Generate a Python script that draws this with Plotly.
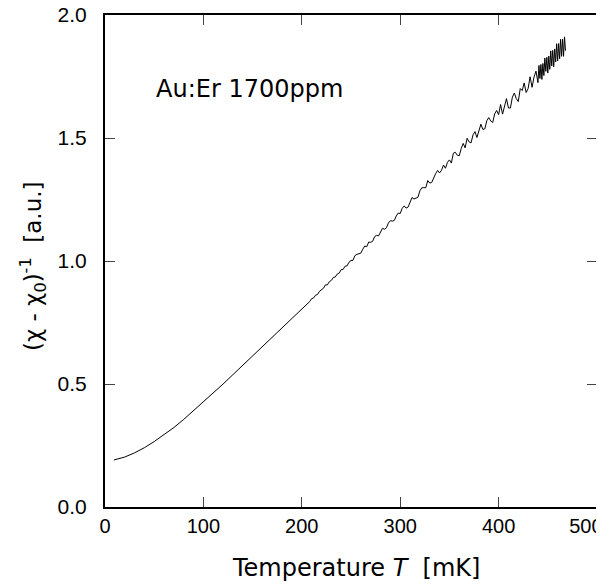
import plotly.graph_objects as go

# Smooth low-temperature part (mK, a.u.)
T_low = [9, 20, 30, 40, 50, 60, 70, 80, 90, 100, 110, 120, 130, 140, 150, 160, 170, 180, 190]
Y_low = [0.191, 0.203, 0.220, 0.241, 0.266, 0.293, 0.323, 0.356, 0.391, 0.427,
         0.463, 0.500, 0.538, 0.576, 0.614, 0.652, 0.690, 0.728, 0.766]

# Noisy part
T_mid = list(range(200, 440, 2))
Y_mid = [0.805, 0.815, 0.819, 0.829, 0.835, 0.847, 0.850, 0.861, 0.864, 0.877,
         0.883, 0.889, 0.903, 0.903, 0.916, 0.921, 0.933, 0.935, 0.947, 0.951,
         0.965, 0.966, 0.979, 0.980, 0.995,
         1.002, 1.003, 1.022, 1.027, 1.028, 1.032, 1.048, 1.061, 1.058, 1.077,
         1.076, 1.080, 1.099, 1.104, 1.102, 1.118, 1.133, 1.129, 1.135, 1.154,
         1.164, 1.162, 1.165, 1.183, 1.195,
         1.193, 1.214, 1.224, 1.215, 1.219, 1.240, 1.258, 1.252, 1.254, 1.259,
         1.285, 1.298, 1.298, 1.298, 1.327, 1.317, 1.319, 1.341, 1.355, 1.368,
         1.358, 1.369, 1.390, 1.377, 1.401,
         1.411, 1.398, 1.438, 1.442, 1.430, 1.428, 1.457, 1.478, 1.460, 1.499,
         1.484, 1.480, 1.513, 1.526, 1.502, 1.530, 1.556, 1.535, 1.537, 1.570,
         1.583, 1.569, 1.563, 1.598, 1.612,
         1.595, 1.636, 1.597, 1.631, 1.660, 1.622, 1.622, 1.666, 1.683, 1.660,
         1.648, 1.701, 1.693, 1.724, 1.685, 1.701, 1.749, 1.706, 1.748, 1.772]

T_high = list(range(440, 469))
Y_high = [1.725, 1.795, 1.742, 1.799, 1.738, 1.803, 1.754, 1.825, 1.771, 1.828,
          1.764, 1.833, 1.779, 1.854, 1.793, 1.856, 1.789, 1.862, 1.809, 1.883,
          1.813, 1.884, 1.822, 1.901, 1.832, 1.902, 1.832, 1.911, 1.855]

T_all = T_low + T_mid + T_high
Y_all = Y_low + Y_mid + Y_high

x_ticks = [0, 100, 200, 300, 400, 500]
x_tick_text = ["0", "100", "200", "300", "400", "500\u00a0\u00a0\u00a0\u00a0"]
y_ticks = [0.0, 0.5, 1.0, 1.5, 2.0]
y_tick_text = ["0.0", "0.5", "1.0", "1.5", "2.0"]

tick_font = "Liberation Sans, Arial, Helvetica, sans-serif"
title_font = "DejaVu Sans, Liberation Sans, sans-serif"

fig = go.Figure()
fig.add_trace(go.Scatter(x=T_all, y=Y_all, mode="lines",
                         line=dict(color="black", width=1), showlegend=False))

fig.add_annotation(x=50, y=1.70, text="Au:Er 1700ppm", showarrow=False,
                   xanchor="left", yanchor="middle",
                   font=dict(family=title_font, size=24, color="black"))

# axis titles as annotations (paper coordinates relative to plot area)
fig.add_annotation(xref="paper", yref="paper", x=0.511, y=-0.124,
                   text="Temperature <i>T</i>  [mK]", showarrow=False,
                   xanchor="center", yanchor="middle",
                   font=dict(family=title_font, size=24, color="black"))
fig.add_annotation(xref="paper", yref="paper", x=-0.146, y=0.49,
                   text="(χ - χ<sub>0</sub>)<sup>-1</sup>  [a.u.]", showarrow=False,
                   textangle=-90, xanchor="center", yanchor="middle",
                   font=dict(family=title_font, size=23, color="black"))

axis_common = dict(showgrid=False, zeroline=False, showline=True, linecolor="black",
                   linewidth=2, mirror="ticks", ticks="inside", ticklen=10,
                   tickwidth=1, tickcolor="#444", automargin=False,
                   ticklabeloverflow="allow")

fig.update_xaxes(range=[0, 500], tickvals=x_ticks, ticktext=x_tick_text,
                 ticklabelstandoff=0,
                 tickfont=dict(family=tick_font, size=20, color="black"), **axis_common)
fig.update_yaxes(range=[0, 2.0], tickvals=y_ticks, ticktext=y_tick_text,
                 ticklabelstandoff=12,
                 tickfont=dict(family=tick_font, size=21, color="black"), **axis_common)

# page body has an 8px default margin, so the figure is 8px smaller
fig.update_layout(width=596, height=576, margin=dict(l=97, r=7, t=7, b=77),
                  plot_bgcolor="white", paper_bgcolor="white")

fig.write_html("out.html")
